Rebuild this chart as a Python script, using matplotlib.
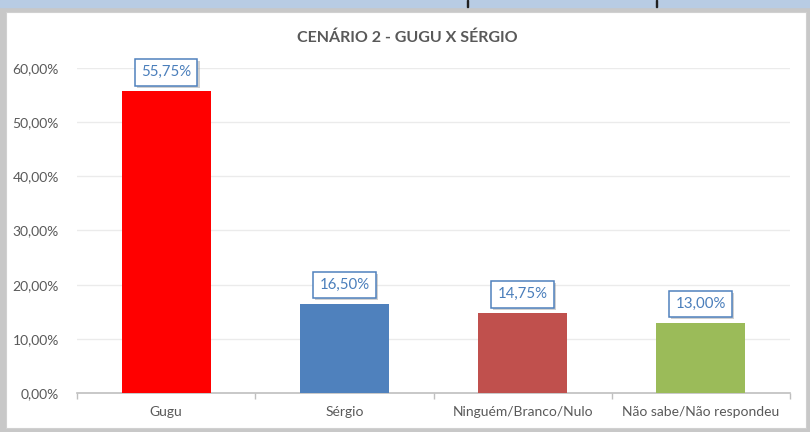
import matplotlib
matplotlib.use("Agg")
import matplotlib.pyplot as plt
import matplotlib.patheffects as pe
from matplotlib.patches import Rectangle
from matplotlib.ticker import FuncFormatter, FixedLocator

categories = ["Gugu", "Sérgio", "Ninguém/Branco/Nulo", "Não sabe/Não respondeu"]
values = [55.75, 16.50, 14.75, 13.00]
bar_colors = ["#FF0000", "#4F81BD", "#C0504D", "#9BBB59"]
title = "CENÁRIO 2 - GUGU X SÉRGIO"

TEXT = "#595959"
plt.rcParams["font.family"] = ["Lato", "DejaVu Sans"]


def pct(v):
    return "{:.2f}%".format(v).replace(".", ",")


def main():
    fig = plt.figure(figsize=(8.1, 4.32), dpi=100)
    W, H = 810.0, 432.0

    # surroundings: spreadsheet strip and chart frame
    fig.patches.append(Rectangle((0, 0), 1, 1, transform=fig.transFigure,
                                 color="#C8C8C8", zorder=-3))
    fig.patches.append(Rectangle((0, 1 - 7 / H), 1, 7 / H, transform=fig.transFigure,
                                 color="#B8CCE4", zorder=-2))
    for xl in [467, 656]:
        fig.patches.append(Rectangle((xl / W, 1 - 7 / H), 1.2 / W, 7 / H,
                                     transform=fig.transFigure, color="#202020", zorder=-1))
    fig.patches.append(Rectangle((6 / W, 4 / H), 800 / W, 416 / H,
                                 transform=fig.transFigure, facecolor="white",
                                 edgecolor="#D0D0D0", lw=0.8, zorder=-1))

    ax = fig.add_axes([77 / W, 39 / H, 713 / W, 325 / H])
    ax.set_facecolor("none")
    x = list(range(len(categories)))
    ax.bar(x, [v / 100 for v in values], width=0.5, color=bar_colors, zorder=3)

    ax.set_xlim(-0.5, len(categories) - 0.5)
    ax.set_ylim(0, 0.6)
    ax.set_yticks([i / 10 for i in range(7)])
    ax.yaxis.set_major_formatter(FuncFormatter(lambda v, p: pct(v * 100)))
    ax.grid(axis="y", color="#EBEBEB", lw=1, zorder=0)

    ax.set_xticks(x)
    ax.set_xticklabels(categories)
    ax.xaxis.set_minor_locator(FixedLocator([i - 0.5 for i in range(len(categories) + 1)]))
    ax.tick_params(axis="x", which="major", length=0, pad=9, labelsize=10, labelcolor=TEXT)
    ax.tick_params(axis="x", which="minor", length=4, color="#BFBFBF", width=1)
    ax.tick_params(axis="y", length=0, pad=13, labelsize=10, labelcolor=TEXT)

    for s in ["top", "right", "left"]:
        ax.spines[s].set_visible(False)
    ax.spines["bottom"].set_color("#BFBFBF")
    ax.spines["bottom"].set_linewidth(1.2)

    for xi, v in zip(x, values):
        t = ax.annotate(pct(v), (xi, v / 100), xytext=(0, 13.5), textcoords="offset points",
                        ha="center", va="center", fontsize=10.8, color="#4A7EBB", zorder=5,
                        bbox=dict(boxstyle="square,pad=0.42", fc="white", ec="#4F81BD", lw=1.1))
        t.get_bbox_patch().set_path_effects([
            pe.SimplePatchShadow(offset=(1.5, -1.5), shadow_rgbFace="#9A9A9A", alpha=0.45),
            pe.Normal()])

    fig.text(407 / W, 1 - 38 / H, title, ha="center", va="center",
             fontsize=11.5, fontweight="bold", color=TEXT)

    fig.savefig("out.png", dpi=100)


if __name__ == "__main__":
    main()
